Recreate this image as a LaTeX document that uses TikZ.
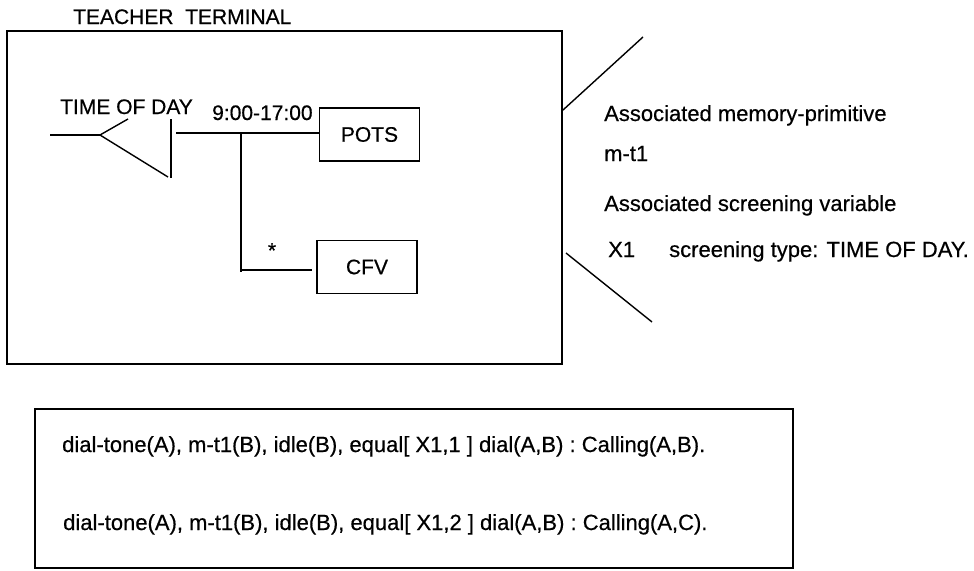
\documentclass[tikz,border=0pt]{standalone}
\usepackage{fontspec}
\setmainfont[FakeBold=0.5]{Liberation Sans}
\begin{document}
\begin{tikzpicture}[x=1pt,y=-1pt,
  ln/.style={line width=1.4pt,black},
  blk/.style={draw,line width=1.4pt,minimum width=100pt,minimum height=53pt,inner sep=0pt,font=\fontsize{21}{24}\selectfont},
  lbl/.style={anchor=base west,inner sep=0pt,font=\fontsize{21}{24}\selectfont},
  rlbl/.style={anchor=base west,inner sep=0pt,font=\fontsize{22}{24}\selectfont},
  blbl/.style={anchor=base west,inner sep=0pt,font=\fontsize{22}{24}\selectfont}]
\useasboundingbox (0,0) rectangle (974,570);
% outer frame
\draw[ln] (7,31) rectangle (562,364);
\node[lbl] (title) at (73,24) {TEACHER\ \ TERMINAL};
% time of day screening symbol
\coordinate (in) at (50,135);
\coordinate (apex) at (100,135);
\coordinate (up) at (128,119);
\coordinate (lo) at (168,177);
\coordinate (bart) at (171,119);
\coordinate (barb) at (171,178);
\coordinate (out) at (176,133);
\coordinate (br) at (241,133);
\coordinate (brb) at (241,272);
\coordinate (brh) at (241,270);
\draw[ln] (in) -- (apex);
\draw[ln] (up) -- (apex) -- (lo);
\draw[ln] (bart) -- (barb);
\node[lbl] (tod) at (60,114) {TIME OF DAY};
\node[lbl] (hrs) at (212,120) {9:00-17:00};
\node[blk] (pots) at (369.5,134.5) {POTS};
\node[blk] (cfv) at (367,267) {CFV};
\draw[ln] (out) -- (out -| pots.west);
\draw[ln] (br) -- (brb);
\draw[ln] (brh) -- ([xshift=-4pt]brh -| cfv.west);
\node[anchor=north,inner sep=0pt,font=\fontsize{21}{24}\selectfont] (star) at (272,243) {*};
% callout lines
\coordinate (c1a) at (563,110);
\coordinate (c1b) at (643,37);
\coordinate (c2a) at (566,253);
\coordinate (c2b) at (652,322);
\draw[ln] (c1a) -- (c1b);
\draw[ln] (c2a) -- (c2b);
\node[rlbl] (t1) at (604,121) {Associated memory-primitive};
\node[rlbl] (t2) at (604,161) {m-t1};
\node[rlbl] (t3) at (604,211) {Associated screening variable};
\node[rlbl] (t4) at (608,257) {X1};
\node[rlbl] (t5) at (669,257) {screening type: TIME OF DAY.};
% rules box
\draw[ln] (35,409) rectangle (793,568);
\node[blbl] (r1) at (62,452) {dial-tone(A), m-t1(B), idle(B), equal[ X1,1 ] dial(A,B) : Calling(A,B).};
\node[blbl] (r2) at (63,530) {dial-tone(A), m-t1(B), idle(B), equal[ X1,2 ] dial(A,B) : Calling(A,C).};
\end{tikzpicture}
\end{document}
